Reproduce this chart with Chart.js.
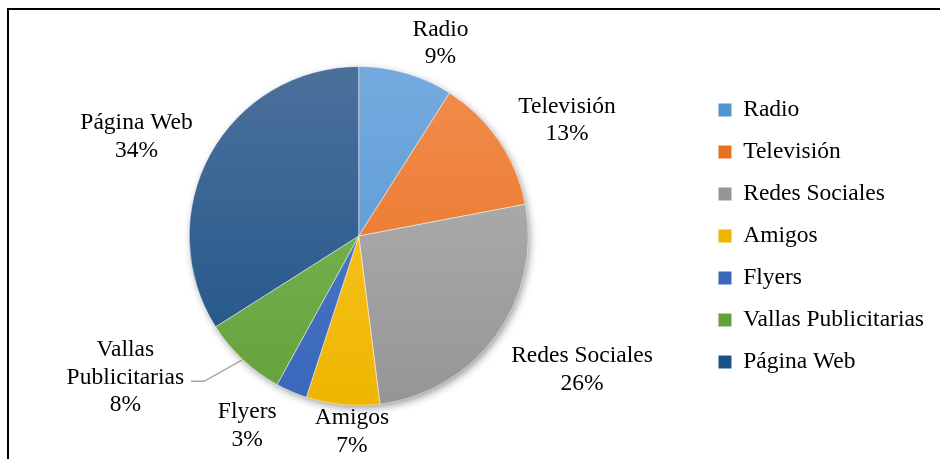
<!DOCTYPE html>
<html>
<head>
    <meta charset="utf-8">
    <title>Medios de difusión</title>
    <script src="https://cdn.jsdelivr.net/npm/chart.js"></script>
    <style>
        body { margin: 0; background: #fff; }
    </style>
</head>
<body>
    <canvas id="pieChart" width="940" height="459"></canvas>
    <script>
        // Data
        const categories = ['Radio', 'Televisión', 'Redes Sociales', 'Amigos', 'Flyers', 'Vallas Publicitarias', 'Página Web'];
        const shares = [9, 13, 26, 7, 3, 8, 34];

        // Slice colours: [top of pie, bottom of pie]
        const sliceColors = [
            ['#74aadf', '#5294d2'],
            ['#f28d4e', '#e86f1e'],
            ['#b6b6b6', '#959595'],
            ['#ffcb33', '#eeb500'],
            ['#5281d0', '#3a67b9'],
            ['#82bc5c', '#64a13c'],
            ['#4c709c', '#1c5387']
        ];

        // Data label placement: angle shift (deg) and distance (x outer radius)
        const labelShift = [6.8, 5.2, -5.1, -3.4, 7.0, 15.6, -4.8];
        const labelDist = [1.235, 1.405, 1.535, 1.155, 1.30, 1.61, 1.435];

        const FONT = '"Liberation Serif", "Times New Roman", serif';
        const FONT_SIZE = 23.5;

        function sliceGradient(context) {
            const chart = context.chart;
            const area = chart.chartArea;
            const c = sliceColors[context.dataIndex];
            if (!area) return c[0];
            const g = chart.ctx.createLinearGradient(0, area.top, 0, area.bottom);
            g.addColorStop(0, c[0]);
            g.addColorStop(1, c[1]);
            return g;
        }

        // Outline on the left and top edge
        const framePlugin = {
            id: 'frame',
            beforeDraw(chart) {
                const ctx = chart.ctx;
                ctx.save();
                ctx.strokeStyle = '#000';
                ctx.lineWidth = 2;
                ctx.beginPath();
                ctx.moveTo(8, chart.height);
                ctx.lineTo(8, 9);
                ctx.lineTo(chart.width, 9);
                ctx.stroke();
                ctx.restore();
            }
        };

        // Soft shadow under the pie
        const shadowPlugin = {
            id: 'pieShadow',
            beforeDatasetsDraw(chart) {
                const arc = chart.getDatasetMeta(0).data[0];
                if (!arc) return;
                const { x, y, outerRadius } = arc.getProps(['x', 'y', 'outerRadius'], true);
                const ctx = chart.ctx;
                ctx.save();
                ctx.shadowColor = 'rgba(0,0,0,0.45)';
                ctx.shadowBlur = 9;
                ctx.shadowOffsetX = 2;
                ctx.shadowOffsetY = 3;
                ctx.fillStyle = '#fff';
                ctx.beginPath();
                ctx.arc(x, y, outerRadius - 1, 0, Math.PI * 2);
                ctx.fill();
                ctx.restore();
            }
        };

        // Category name and percentage next to each slice
        const labelPlugin = {
            id: 'sliceLabels',
            afterDatasetsDraw(chart) {
                const ctx = chart.ctx;
                const data = chart.data.datasets[0].data;
                const total = data.reduce((a, b) => a + b, 0);
                const lineH = 27.5;
                ctx.save();
                ctx.font = FONT_SIZE + 'px ' + FONT;
                ctx.fillStyle = '#000';
                ctx.textAlign = 'center';
                ctx.textBaseline = 'middle';
                chart.getDatasetMeta(0).data.forEach((arc, i) => {
                    const { x, y, startAngle, endAngle, outerRadius } =
                        arc.getProps(['x', 'y', 'startAngle', 'endAngle', 'outerRadius'], true);
                    const mid = (startAngle + endAngle) / 2;
                    const a = mid + labelShift[i] * Math.PI / 180;
                    const lx = x + Math.cos(a) * outerRadius * labelDist[i];
                    const ly = y + Math.sin(a) * outerRadius * labelDist[i];
                    const name = chart.data.labels[i];
                    const lines = name.length > 14 ? name.split(' ') : [name];
                    lines.push(Math.round(data[i] / total * 100) + '%');
                    const top = ly - (lines.length - 1) * lineH / 2;
                    lines.forEach((t, k) => ctx.fillText(t, lx, top + k * lineH));

                    // leader line for the wrapped label
                    if (lines.length > 2) {
                        const ty = top + lineH + 4;
                        const endX = lx + ctx.measureText(lines[1]).width / 2 + 7;
                        ctx.strokeStyle = '#a6a6a6';
                        ctx.lineWidth = 1.5;
                        ctx.beginPath();
                        ctx.moveTo(x + Math.cos(mid) * outerRadius, y + Math.sin(mid) * outerRadius);
                        ctx.lineTo(endX + 13, ty);
                        ctx.lineTo(endX, ty);
                        ctx.stroke();
                    }
                });
                ctx.restore();
            }
        };

        const ctx = document.getElementById('pieChart').getContext('2d');
        const chart = new Chart(ctx, {
            type: 'pie',
            data: {
                labels: categories,
                datasets: [{
                    data: shares,
                    backgroundColor: sliceGradient,
                    borderColor: 'rgba(255,255,255,0.45)',
                    borderWidth: 1
                }]
            },
            options: {
                responsive: false,
                animation: false,
                layout: {
                    padding: { top: 66, bottom: 53, left: 17.5, right: 6 }
                },
                plugins: {
                    tooltip: { enabled: false },
                    legend: {
                        position: 'right',
                        labels: {
                            font: { family: FONT, size: FONT_SIZE },
                            color: '#000',
                            boxWidth: 13,
                            boxHeight: 13,
                            padding: 18.5,
                            generateLabels(chart) {
                                return chart.data.labels.map((text, i) => ({
                                    text,
                                    fillStyle: sliceColors[i][1],
                                    strokeStyle: sliceColors[i][1],
                                    lineWidth: 0,
                                    fontColor: '#000',
                                    index: i
                                }));
                            }
                        }
                    }
                }
            },
            plugins: [framePlugin, shadowPlugin, labelPlugin]
        });
    </script>
</body>
</html>
